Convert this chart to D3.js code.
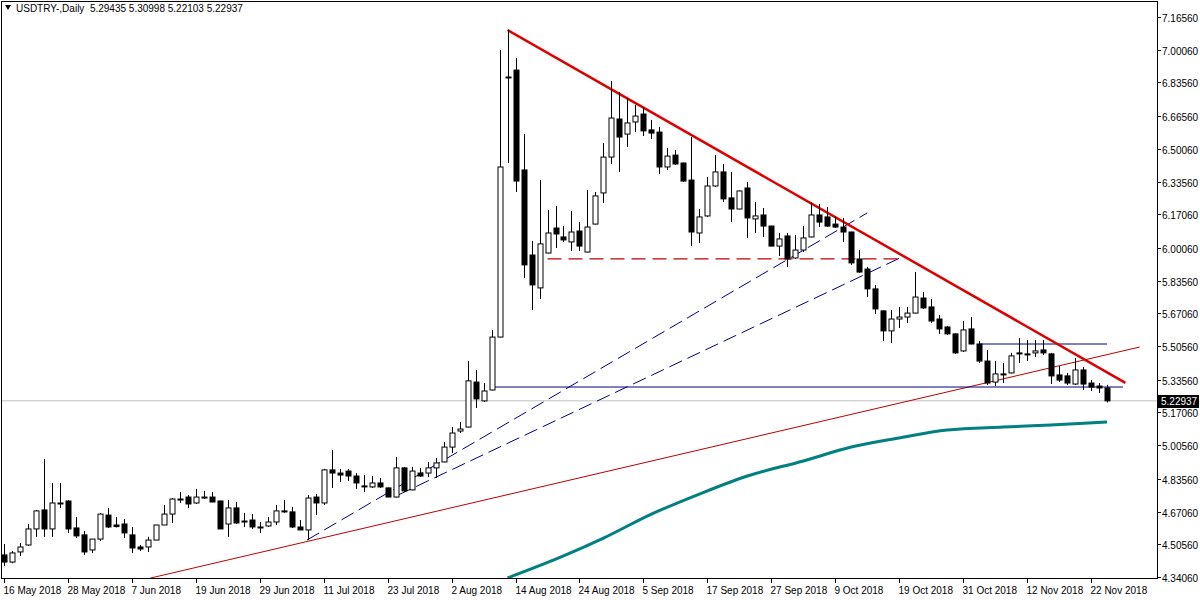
<!DOCTYPE html>
<html><head><meta charset="utf-8">
<script src="https://cdn.jsdelivr.net/npm/d3@7"></script>
<style>body{margin:0;background:#fff}svg{display:block}text{font-family:"Liberation Sans",Arial,sans-serif;font-size:10px;fill:#000}</style>
</head><body><svg id="c" width="1200" height="600"></svg>
<script>
const opens=[4.452,4.416,4.467,4.502,4.583,4.679,4.583,4.714,4.724,4.588,4.553,4.477,4.532,4.653,4.603,4.608,4.553,4.492,4.492,4.527,4.603,4.658,4.734,4.744,4.714,4.744,4.744,4.724,4.608,4.689,4.623,4.628,4.593,4.598,4.618,4.674,4.669,4.593,4.578,4.744,4.714,4.881,4.865,4.875,4.850,4.800,4.795,4.815,4.790,4.744,4.891,4.780,4.865,4.865,4.891,4.921,4.996,5.077,5.097,5.324,5.229,5.284,5.551,6.858,6.898,6.394,5.965,5.799,5.975,6.101,6.056,6.031,6.086,5.980,6.121,6.278,6.459,6.651,6.575,6.636,6.676,6.596,6.585,6.409,6.469,6.429,6.343,6.076,6.162,6.313,6.384,6.253,6.197,6.303,6.147,6.167,6.111,6.010,6.061,5.950,5.990,6.056,6.167,6.157,6.121,6.106,6.081,5.945,5.894,5.794,5.683,5.582,5.642,5.652,5.672,5.748,5.703,5.642,5.602,5.567,5.481,5.592,5.516,5.430,5.324,5.365,5.370,5.471,5.466,5.471,5.486,5.466,5.360,5.355,5.314,5.385,5.319,5.304,5.29435];
const highs=[4.507,4.472,4.512,4.608,4.679,4.936,4.815,4.815,4.728,4.643,4.573,4.532,4.664,4.689,4.643,4.633,4.593,4.502,4.543,4.603,4.704,4.739,4.769,4.754,4.785,4.775,4.769,4.726,4.729,4.719,4.664,4.658,4.618,4.643,4.704,4.729,4.694,4.628,4.754,4.759,4.886,4.981,4.886,4.886,4.865,4.855,4.850,4.840,4.792,4.946,4.896,4.896,4.891,4.921,4.941,5.022,5.097,5.123,5.430,5.385,5.319,5.587,6.999,7.100,6.959,6.575,6.036,6.343,6.192,6.212,6.111,6.187,6.131,6.293,6.283,6.530,6.843,6.787,6.757,6.722,6.712,6.646,6.611,6.505,6.495,6.431,6.560,6.197,6.358,6.469,6.424,6.384,6.290,6.333,6.232,6.202,6.113,6.076,6.076,6.066,6.111,6.232,6.222,6.207,6.162,6.152,6.083,5.990,5.905,5.814,5.685,5.688,5.703,5.703,5.879,5.778,5.743,5.662,5.607,5.569,5.632,5.652,5.531,5.486,5.430,5.420,5.471,5.546,5.536,5.536,5.536,5.471,5.405,5.370,5.445,5.400,5.334,5.319,5.30998];
const lows=[4.396,4.410,4.447,4.497,4.543,4.543,4.543,4.689,4.563,4.537,4.452,4.462,4.522,4.588,4.590,4.537,4.462,4.472,4.467,4.527,4.603,4.613,4.714,4.689,4.709,4.734,4.719,4.583,4.543,4.608,4.593,4.583,4.563,4.593,4.603,4.664,4.588,4.578,4.527,4.653,4.704,4.790,4.820,4.825,4.785,4.769,4.790,4.790,4.744,4.742,4.769,4.778,4.845,4.845,4.840,4.919,4.966,5.067,5.095,5.193,5.224,5.282,5.549,6.429,6.283,5.849,5.688,5.743,5.973,6.000,6.031,5.985,5.985,5.978,6.119,6.227,6.424,6.384,6.510,6.585,6.565,6.550,6.374,6.394,6.419,6.333,6.010,6.026,6.157,6.308,6.232,6.131,6.195,6.051,6.076,6.056,6.010,5.960,5.905,5.945,5.980,6.054,6.106,6.106,6.101,6.031,5.915,5.875,5.753,5.667,5.531,5.521,5.597,5.622,5.670,5.693,5.622,5.567,5.561,5.466,5.476,5.514,5.420,5.309,5.304,5.319,5.368,5.420,5.430,5.450,5.461,5.314,5.324,5.309,5.309,5.284,5.279,5.269,5.22103];
const closes=[4.416,4.462,4.492,4.583,4.674,4.583,4.714,4.712,4.583,4.548,4.467,4.532,4.658,4.593,4.595,4.563,4.487,4.482,4.527,4.603,4.658,4.734,4.732,4.709,4.744,4.739,4.719,4.583,4.689,4.613,4.621,4.593,4.591,4.618,4.674,4.672,4.593,4.578,4.739,4.714,4.881,4.865,4.855,4.850,4.815,4.798,4.815,4.795,4.744,4.891,4.775,4.875,4.850,4.891,4.916,4.996,5.067,5.087,5.330,5.239,5.279,5.551,6.409,6.863,6.338,5.915,5.814,6.021,6.076,6.071,6.041,6.081,6.010,6.106,6.263,6.459,6.656,6.560,6.631,6.666,6.591,6.580,6.409,6.464,6.424,6.338,6.081,6.157,6.313,6.384,6.248,6.197,6.288,6.152,6.162,6.111,6.010,6.046,5.945,5.990,6.051,6.167,6.131,6.111,6.106,6.081,5.925,5.879,5.794,5.693,5.582,5.642,5.652,5.672,5.753,5.698,5.632,5.592,5.567,5.471,5.587,5.516,5.430,5.319,5.365,5.363,5.456,5.469,5.464,5.481,5.471,5.355,5.334,5.319,5.385,5.314,5.299,5.294,5.22937];
const dateLabels=["16 May 2018","28 May 2018","7 Jun 2018","19 Jun 2018","29 Jun 2018","11 Jul 2018","23 Jul 2018","2 Aug 2018","14 Aug 2018","24 Aug 2018","5 Sep 2018","17 Sep 2018","27 Sep 2018","9 Oct 2018","19 Oct 2018","31 Oct 2018","12 Nov 2018","22 Nov 2018"];
const dateIdx=[0,8,16,24,32,40,48,56,64,72,80,88,96,104,112,120,128,136];
const priceTicks=[7.16560,7.00060,6.83560,6.66560,6.50060,6.33560,6.17060,6.00060,5.83560,5.67060,5.50560,5.33560,5.17060,5.00560,4.83560,4.67060,4.50560,4.34060];
const maIdx=[63,70,75,81,87,93,100,106,112,118,125,131,138];
const maVal=[4.336,4.447,4.537,4.658,4.759,4.850,4.926,4.996,5.042,5.082,5.097,5.107,5.123];
const lastPrice=5.22937;

const svg=d3.select("#c");
const L=1,R=1157,T=1,B=578;
const x=d3.scaleLinear().domain([0,138]).range([4,1107]);
const y=d3.scaleLinear().domain([4.3406,7.1656]).range([577,17]);
const g=svg.append("g");
svg.append("defs").append("clipPath").attr("id","clip").append("rect").attr("x",L).attr("y",T).attr("width",R-L).attr("height",B-T);
const p=g.append("g").attr("clip-path","url(#clip)");
const seg=(i1,v1,i2,v2,col,w,dash)=>p.append("line").attr("x1",x(i1)).attr("y1",y(v1)).attr("x2",x(i2)).attr("y2",y(v2)).attr("stroke",col).attr("stroke-width",w).attr("stroke-dasharray",dash||null);
seg(-5,lastPrice,150,lastPrice,"#c0c0c0",1);
p.append("path").datum(maIdx.map((d,k)=>[d,maVal[k]])).attr("d",d3.line().x(d=>x(d[0])).y(d=>y(d[1])).curve(d3.curveMonotoneX)).attr("fill","none").attr("stroke","#008080").attr("stroke-width",3);
seg(18.3,4.335,142.1,5.501,"#c00000",1);
seg(37.9,4.527,108,6.177,"#000080",1,"14,6");
seg(49.3,4.754,112.1,5.950,"#000080",1,"14,6");
seg(68,5.945,112.7,5.945,"#c00000",1.2,"14,7");
seg(61,5.299,140,5.299,"#000080",1);
seg(122,5.516,138,5.516,"#000080",1);
seg(63,7.10,140.3,5.32,"#dd0000",2.5);
const data=opens.map((o,i)=>({i,o,h:highs[i],l:lows[i],c:closes[i]}));
const cg=p.selectAll("g.c").data(data).join("g");
cg.append("line").attr("x1",d=>Math.round(x(d.i))+0.5).attr("x2",d=>Math.round(x(d.i))+0.5).attr("y1",d=>y(d.h)).attr("y2",d=>y(d.l)).attr("stroke","#000");
cg.append("rect").attr("x",d=>Math.round(x(d.i))-2).attr("width",5)
 .attr("y",d=>y(Math.max(d.o,d.c))).attr("height",d=>Math.max(1,Math.abs(y(d.o)-y(d.c))))
 .attr("fill",d=>d.c>=d.o?"#fff":"#000").attr("stroke","#000").attr("stroke-width",1);
g.append("rect").attr("x",L+0.5).attr("y",T+0.5).attr("width",R-L).attr("height",B-T).attr("fill","none").attr("stroke","#000");
const ra=g.append("g");
priceTicks.forEach(v=>{const yy=Math.round(y(v))+0.5;
 ra.append("line").attr("x1",R).attr("x2",R+4).attr("y1",yy).attr("y2",yy).attr("stroke","#000");
 ra.append("text").attr("x",R+5).attr("y",yy+4).text(v.toFixed(5));});
const ly=Math.round(y(lastPrice));
ra.append("rect").attr("x",R+1).attr("y",ly-6).attr("width",41).attr("height",13).attr("fill","#000");
ra.append("text").attr("x",R+4).attr("y",ly+4).style("fill","#fff").text(lastPrice.toFixed(5));
dateIdx.forEach((d,k)=>{const xx=Math.round(x(d))+0.5;
 g.append("line").attr("x1",xx).attr("x2",xx).attr("y1",B).attr("y2",B+5).attr("stroke","#000");
 g.append("text").attr("x",xx-1).attr("y",594).text(dateLabels[k]);});
g.append("path").attr("d","M5,5 L11,5 L8,10 Z").attr("fill","#000");
g.append("text").attr("x",16).attr("y",12).attr("xml:space","preserve").text("USDTRY-,Daily  5.29435 5.30998 5.22103 5.22937");
</script></body></html>
